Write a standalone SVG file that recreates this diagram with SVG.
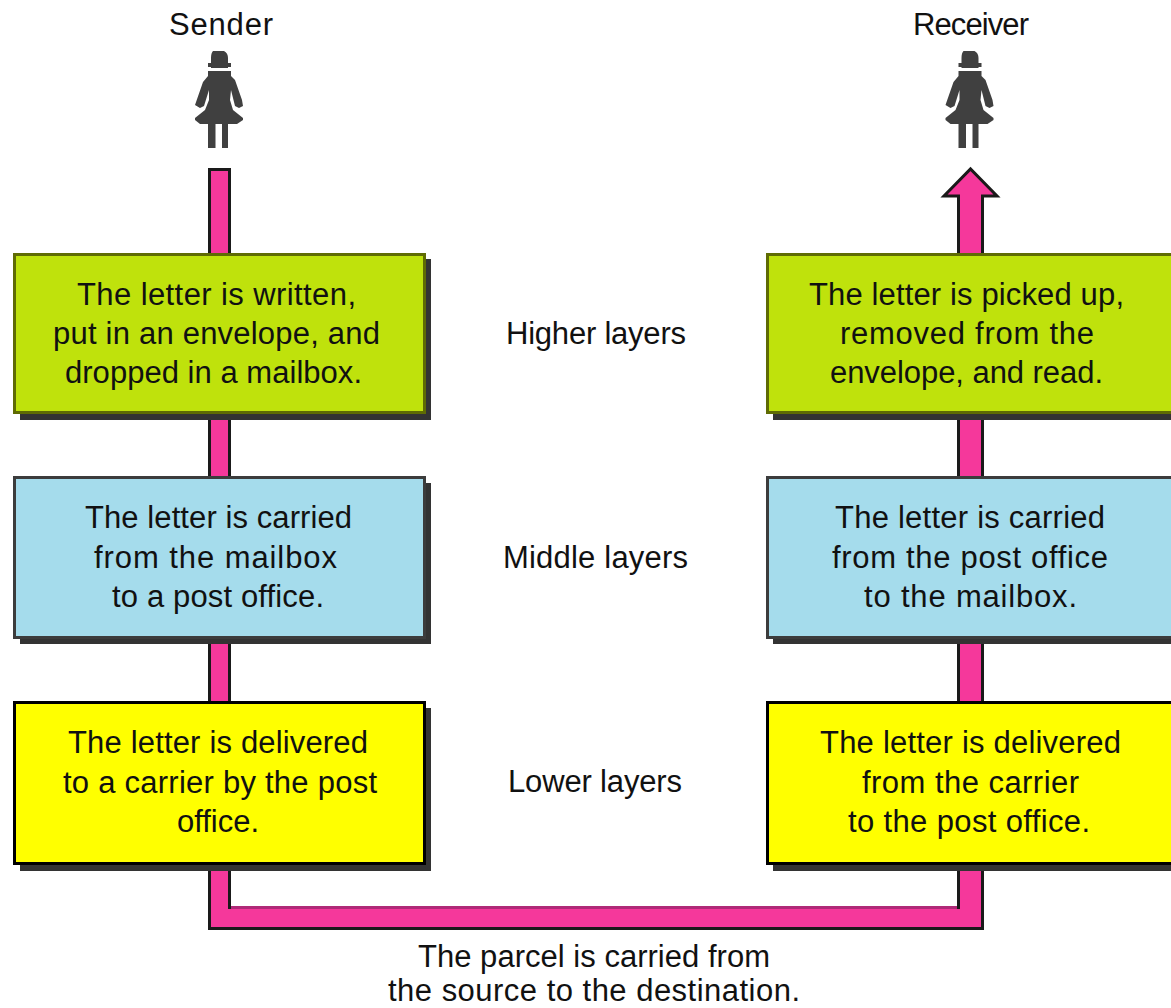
<svg xmlns="http://www.w3.org/2000/svg" width="1171" height="1008" viewBox="0 0 1171 1008">
<defs>
<style>
text{font-family:"Liberation Sans",Arial,sans-serif;font-size:31px;fill:#111;text-anchor:middle}
.box{stroke-width:3}
.g{fill:#bfe20c;stroke:#5f6b04}
.b{fill:#a5dcec;stroke:#3c3c3c}
.y{fill:#ffff00;stroke:#000}
.sh{fill:#333}
.fig{fill:#404040}
.pipe{fill:#f5389b;stroke:#1a1a1a;stroke-width:3;stroke-linejoin:miter}
.inner{fill:none;stroke:#b02a78;stroke-width:3}
</style>
<g id="person"><path class="fig" d="M-6 51H5Q9 53 9 58V63H12V67H9V68H-8V67H-11V63H-8V58Q-8 53 -6 51Z"/><path class="fig" d="M-11 71H12V76L16 80L23 100L24 106L20 108L16 106L12 90L11 100L14 110L24 118V120L18 124H-19L-24 120V118L-14 110L-10 100L-10 90L-15 106L-19 108L-24 105L-16 82L-11 76Z"/><rect x="-11" y="122" width="7.500" height="26" class="fig"/><rect x="3" y="122" width="6" height="26" class="fig"/></g>
</defs>
<rect width="1171" height="1008" fill="#fff"/>
<g id="connectors">
<path class="pipe" d="M209.500 169.500H229.500V907.500H958.500V196H944L970.500 169L997 196H982.500V928.500H209.500Z"/>
<path class="inner" d="M231 907.500H957"/>
</g>
<g id="sender"><use href="#person" x="219"/><text x="221" y="35" textLength="104">Sender</text></g>
<g id="receiver"><use href="#person" x="969.500"/><text x="971" y="35" textLength="116">Receiver</text></g>
<g id="higher-sender"><rect class="sh" x="20" y="259" width="411" height="161"/><rect class="box g" x="14.500" y="254.500" width="410" height="158"/><text x="216.500" y="305" textLength="279">The letter is written,</text><text x="216.500" y="344" textLength="327">put in an envelope, and</text><text x="213.500" y="383" textLength="297">dropped in a mailbox.</text></g>
<g id="middle-sender"><rect class="sh" x="20" y="483" width="411" height="161"/><rect class="box b" x="14.500" y="477.500" width="410" height="160"/><text x="218.500" y="528" textLength="267">The letter is carried</text><text x="215.500" y="568" textLength="243">from the mailbox</text><text x="218" y="607" textLength="212">to a post office.</text></g>
<g id="lower-sender"><rect class="sh" x="20" y="708" width="411" height="163"/><rect class="box y" x="14.500" y="702.500" width="410" height="161"/><text x="218" y="753" textLength="300">The letter is delivered</text><text x="220" y="793" textLength="314">to a carrier by the post</text><text x="218" y="832" textLength="82">office.</text></g>
<g id="higher-receiver"><rect class="sh" x="773" y="259" width="398" height="161"/><rect class="box g" x="767.500" y="254.500" width="410" height="158"/><text x="966.500" y="305" textLength="315">The letter is picked up,</text><text x="967" y="344" textLength="254">removed from the</text><text x="966.500" y="383" textLength="273">envelope, and read.</text></g>
<g id="middle-receiver"><rect class="sh" x="773" y="483" width="398" height="161"/><rect class="box b" x="767.500" y="477.500" width="410" height="160"/><text x="970" y="528" textLength="270">The letter is carried</text><text x="970" y="568" textLength="276">from the post office</text><text x="970.500" y="607" textLength="213">to the mailbox.</text></g>
<g id="lower-receiver"><rect class="sh" x="773" y="708" width="398" height="163"/><rect class="box y" x="767.500" y="702.500" width="410" height="161"/><text x="970.500" y="753" textLength="301">The letter is delivered</text><text x="970.500" y="793" textLength="217">from the carrier</text><text x="969" y="832" textLength="242">to the post office.</text></g>
<text x="596" y="344" textLength="180">Higher layers</text>
<text x="595.500" y="568" textLength="185">Middle layers</text>
<text x="595" y="792" textLength="174">Lower layers</text>
<text x="594" y="967" textLength="352">The parcel is carried from</text>
<text x="594" y="1001" textLength="412">the source to the destination.</text>
</svg>
